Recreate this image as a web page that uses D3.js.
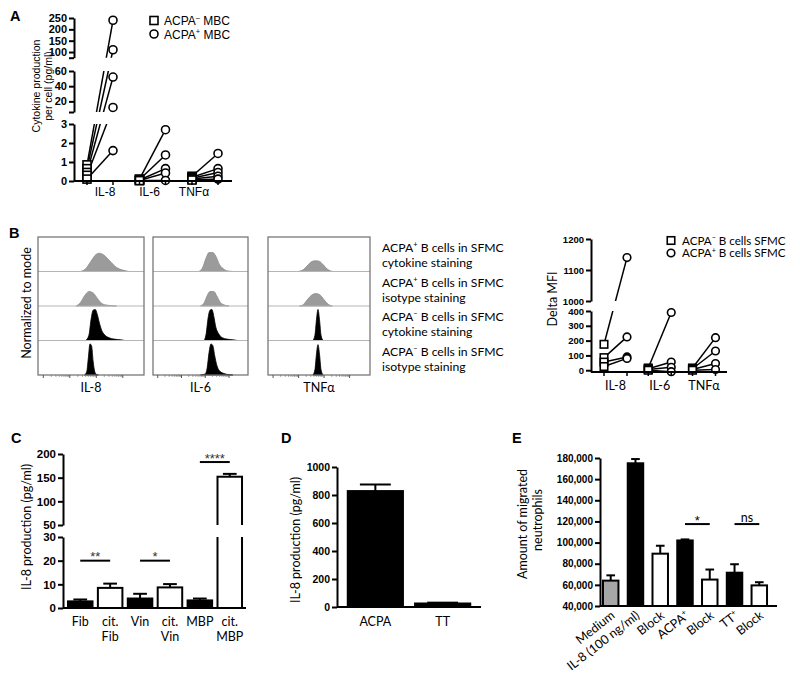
<!DOCTYPE html>
<html><head><meta charset="utf-8">
<script src="https://cdn.jsdelivr.net/npm/d3@7/dist/d3.min.js"></script>
<style>body{margin:0;background:#fff}svg{display:block}</style>
</head><body>
<script>
// ================= DATA =================
// Panel A: cytokine production per cell (pg/ml)
const aCats = ["IL-8", "IL-6", "TNFα"];
const aNeg = [[0.85, 0.65, 0.45, 0.3, 0.1], [0.1, 0.08, 0.05, 0.03, 0.02], [0.25, 0.2, 0.15, 0.1, 0.05]];
const aPos = [[240, 110, 52, 12, 1.6], [2.7, 1.37, 0.65, 0.42, 0.03], [1.45, 0.65, 0.45, 0.25, 0.1]];
const aSegDomains = [[0, 3], [6, 60], [75, 250]];
const aTicks = [[0, 1, 2, 3], [20, 40, 60], [100, 150, 200, 250]];
const aCaps = [[], [6], [75]];
const aLegend = ["ACPA^- MBC", "ACPA^+ MBC"];

// Panel B (left): flow histograms, [position 0-100 on log axis, height as fraction of row]
const bCats = ["IL-8", "IL-6", "TNFα"];
const bRowText = [["ACPA^+ B cells in SFMC", "cytokine staining"], ["ACPA^+ B cells in SFMC", "isotype staining"],
                  ["ACPA^- B cells in SFMC", "cytokine staining"], ["ACPA^- B cells in SFMC", "isotype staining"]];
const histIL8 = [
  [[40,0],[45,0.08],[50,0.3],[55,0.5],[58,0.53],[62,0.48],[68,0.3],[74,0.12],[80,0.04],[86,0]],
  [[36,0],[40,0.1],[44,0.3],[48,0.42],[52,0.38],[56,0.22],[60,0.08],[64,0.03],[70,0.01],[74,0]],
  [[45,0],[48,0.15],[50,0.6],[52,0.88],[54,0.9],[56,0.75],[58,0.5],[60,0.3],[63,0.16],[67,0.08],[72,0.04],[78,0.02],[82,0]],
  [[44,0],[46,0.1],[47.5,0.5],[49,0.9],[50.5,0.85],[52,0.4],[53.5,0.1],[55,0.02],[57,0]]
];
const histIL6 = [
  [[48,0],[52,0.1],[56,0.4],[59,0.55],[63,0.55],[66,0.45],[70,0.2],[75,0.06],[80,0.01],[84,0]],
  [[50,0],[54,0.1],[57,0.3],[60,0.42],[64,0.42],[67,0.3],[71,0.1],[75,0.03],[80,0]],
  [[54,0],[56,0.2],[58,0.65],[60,0.88],[62,0.9],[64,0.7],[66,0.4],[69,0.2],[73,0.08],[78,0.04],[84,0.02],[89,0]],
  [[50,0],[55,0.03],[57,0.2],[59,0.65],[61,0.9],[63,0.85],[65,0.55],[67,0.3],[70,0.12],[74,0.05],[80,0.01],[84,0]]
];
const histTNF = [
  [[29,0],[34,0.04],[38,0.15],[42,0.27],[46,0.31],[50,0.3],[54,0.2],[58,0.07],[62,0.01],[64,0]],
  [[31,0],[35,0.05],[39,0.2],[43,0.32],[47,0.36],[51,0.32],[55,0.18],[59,0.05],[63,0]],
  [[44,0],[46,0.15],[47.5,0.6],[49,0.9],[50.5,0.6],[52,0.15],[54,0]],
  [[44,0],[46,0.15],[47.5,0.6],[49,0.88],[50.5,0.6],[52,0.15],[54,0]]
];
const bHist = [histIL8, histIL6, histTNF];
const bLogTicks = [5, 30, 55, 80]; // decade positions on histogram axis (0-100)

// Panel B (right): Delta MFI
const mNeg = [[175, 85, 55, 25], [15, 10, 5, 0], [15, 10, 5, 0]];
const mPos = [[1140, 225, 90, 80], [390, 55, 20, -10], [220, 130, 45, 5]];
const mSegDomains = [[-12, 400], [1000, 1200]];
const mTicks = [[0, 100, 200, 300, 400], [1000, 1100, 1200]];
const mLegend = ["ACPA^- B cells SFMC", "ACPA^+ B cells SFMC"];

// Panel C: IL-8 production (pg/ml)
const cCats = ["Fib", "cit. Fib", "Vin", "cit. Vin", "MBP", "cit. MBP"];
const cVals = [2.8, 8.5, 4.0, 8.7, 3.2, 152];
const cErr = [0.8, 1.8, 2.0, 1.4, 0.8, 6];
const cCit = [false, true, false, true, false, true];
const cSegDomains = [[0, 30], [50, 200]];
const cTicks = [[0, 10, 20, 30], [50, 100, 150, 200]];
const cSig = [[0, 1, "**", 20], [2, 3, "*", 20], [4, 5, "****", 183]];

// Panel D: IL-8 production (pg/ml)
const dCats = ["ACPA", "TT"];
const dVals = [828, 25];
const dErr = [47, 6];
const dTicks = [0, 200, 400, 600, 800, 1000];

// Panel E: amount of migrated neutrophils
const eCats = ["Medium", "IL-8 (100 ng/ml)", "Block", "ACPA^+", "Block", "TT^+", "Block"];
const eVals = [64000, 175000, 89500, 102000, 65000, 71500, 59500];
const eErr = [5000, 4000, 7500, 1000, 9500, 8000, 3000];
const eKind = ["medium", "stim", "block", "stim", "block", "stim", "block"];
const eTicks = [40000, 60000, 80000, 100000, 120000, 140000, 160000, 180000];
const eSig = [[3, 4, "*", 117500], [5, 6, "ns", 117500]];

// ================= DRAWING =================
const W = 800, H = 674;
const svg = d3.select("body").append("svg").attr("width", W).attr("height", H);
svg.append("rect").attr("width", W).attr("height", H).attr("fill", "#fff");
const defs = svg.append("defs");
const ARIAL = "'Liberation Sans', Arial, Helvetica, sans-serif";
const CAL = "Lato, 'Open Sans', sans-serif";

function rich(sel, str, size) {
  const parts = str.split(/(\^[+\-])/);
  let shifted = false;
  parts.forEach(p => {
    if (!p) return;
    if (p[0] === '^') {
      sel.append("tspan").attr("dy", -size * 0.38).attr("font-size", size * 0.62).text(p[1] === '-' ? '\u2013' : '+');
      shifted = true;
    } else {
      const t = sel.append("tspan").text(p);
      if (shifted) { t.attr("dy", size * 0.38); shifted = false; }
    }
  });
  return sel;
}
function txt(x, y, s, size, fam, opts = {}) {
  const t = svg.append("text").attr("x", x).attr("y", y).attr("font-size", size).attr("font-family", fam)
    .attr("fill", "#000").attr("text-anchor", opts.anchor || "start").attr("font-weight", opts.weight || "normal");
  if (opts.transform) t.attr("transform", opts.transform);
  rich(t, s, size);
  return t;
}
function styleAxis(g, fs, weight) {
  g.attr("font-family", ARIAL).attr("font-size", fs).attr("font-weight", weight || "bold");
  g.select(".domain").attr("stroke", "#000").attr("stroke-width", 2);
  g.selectAll(".tick line").attr("stroke", "#000").attr("stroke-width", 2);
  g.selectAll(".tick text").attr("fill", "#000");
}
function yAxisSegs(x, scales, ticks, caps, fmt, fs) {
  scales.forEach((s, i) => {
    const vals = [...ticks[i], ...(caps ? caps[i] : [])];
    const g = svg.append("g").attr("transform", `translate(${x},0)`)
      .call(d3.axisLeft(s).tickValues(vals).tickSize(5).tickSizeOuter(0).tickPadding(2)
        .tickFormat(v => ticks[i].includes(v) ? fmt(v) : ""));
    styleAxis(g, fs);
  });
}
function piece(scales, v) {
  for (const s of scales) { const [a, b] = s.domain(); if (v >= Math.min(a, b) && v <= Math.max(a, b)) return s(v); }
  let best = scales[0], bd = Infinity;
  for (const s of scales) { const [a, b] = s.domain(); const d = Math.min(Math.abs(v - a), Math.abs(v - b)); if (d < bd) { bd = d; best = s; } }
  return best(v);
}
function segClip(id, x0, x1, scales) {
  const cp = defs.append("clipPath").attr("id", id);
  scales.forEach(s => { const r = s.range(); cp.append("rect").attr("x", x0).attr("width", x1 - x0)
    .attr("y", Math.min(r[0], r[1])).attr("height", Math.abs(r[1] - r[0])); });
}
function square(g, x, y, sz) {
  g.append("rect").attr("x", x - sz / 2).attr("y", y - sz / 2).attr("width", sz).attr("height", sz)
    .attr("fill", "#fff").attr("stroke", "#000").attr("stroke-width", 1.6);
}
function circle(g, x, y, r) {
  g.append("circle").attr("cx", x).attr("cy", y).attr("r", r).attr("fill", "#fff").attr("stroke", "#000").attr("stroke-width", 1.6);
}

// Panel letters
[["A", 10, 21], ["B", 9, 238], ["C", 11, 443], ["D", 281, 443], ["E", 512, 443]].forEach(d =>
  svg.append("text").attr("x", d[1]).attr("y", d[2]).text(d[0]).attr("font-family", ARIAL).attr("font-weight", "bold").attr("font-size", 14.5));

// ---------- Panel A ----------
{
  const ax0 = 74, ax1 = 232, ay0 = 181;
  const aRanges = [[181, 124], [112, 71], [57.7, 18]];
  const aY = aSegDomains.map((d, i) => d3.scaleLinear().domain(d).range(aRanges[i]));
  const aX = d3.scalePoint().domain(aCats).range([100, 205]);
  const aXlab = d3.scalePoint().domain(aCats).range([105, 194]);
  const off = 13;
  segClip("clipA", ax0, ax1, aY);
  const lines = svg.append("g").attr("clip-path", "url(#clipA)");
  const marks = svg.append("g");
  aCats.forEach((c, i) => {
    const xs = aX(c) - off, xc = aX(c) + off;
    aNeg[i].forEach((v, j) => {
      lines.append("line").attr("x1", xs).attr("y1", piece(aY, v)).attr("x2", xc).attr("y2", piece(aY, aPos[i][j]))
        .attr("stroke", "#000").attr("stroke-width", 1.5);
    });
  });
  aCats.forEach((c, i) => {
    const xs = aX(c) - off, xc = aX(c) + off;
    aNeg[i].forEach(v => square(marks, xs, piece(aY, v), 8));
    aPos[i].forEach(v => circle(marks, xc, piece(aY, v), 4));
  });
  yAxisSegs(ax0, aY, aTicks, aCaps, d3.format("d"), 11);
  svg.append("line").attr("x1", ax0).attr("x2", ax1).attr("y1", ay0).attr("y2", ay0).attr("stroke", "#000").attr("stroke-width", 2);
  aCats.forEach(c => {
    [aX(c) - off, aX(c) + off].forEach(x => svg.append("line").attr("x1", x).attr("x2", x).attr("y1", ay0).attr("y2", ay0 + 4).attr("stroke", "#000").attr("stroke-width", 1.5));
    txt(aXlab(c), 196, c, 12, ARIAL, { anchor: "middle" });
  });
  txt(0, 0, "Cytokine production", 10.5, ARIAL, { anchor: "middle", transform: "translate(39.5,86) rotate(-90)" });
  txt(0, 0, "per cell (pg/ml)", 10.5, ARIAL, { anchor: "middle", transform: "translate(52,86) rotate(-90)" });
  square(svg, 154, 20.5, 8); txt(164, 25, aLegend[0], 12, ARIAL);
  circle(svg, 154, 34, 4); txt(164, 38.5, aLegend[1], 12, ARIAL);
}

// ---------- Panel B left: histograms ----------
{
  const boxX = [[38, 144], [153, 248], [268, 370]];
  const top = 237, bot = 375, rh = (bot - top) / 4;
  bCats.forEach((c, i) => {
    const [x0, x1] = boxX[i];
    const hx = d3.scaleLinear().domain([0, 100]).range([x0, x1]);
    const g = svg.append("g");
    bHist[i].forEach((pts, r) => {
      const yb = top + (r + 1) * rh, yt = top + r * rh;
      const hy = d3.scaleLinear().domain([0, 1]).range([yb, yt]);
      const area = d3.area().x(d => hx(d[0])).y0(yb).y1(d => hy(d[1])).curve(d3.curveMonotoneX);
      g.append("path").datum(pts).attr("d", area).attr("fill", r < 2 ? "#9b9b9b" : "#000")
        .attr("stroke", r < 2 ? "#8c8c8c" : "#000").attr("stroke-width", 0.8);
      if (r < 3) g.append("line").attr("x1", x0).attr("x2", x1).attr("y1", yb).attr("y2", yb).attr("stroke", "#b5b5b5").attr("stroke-width", 1);
    });
    g.append("rect").attr("x", x0).attr("y", top).attr("width", x1 - x0).attr("height", bot - top)
      .attr("fill", "none").attr("stroke", "#6d6d6d").attr("stroke-width", 1.2);
    bLogTicks.forEach((t, k) => {
      g.append("line").attr("x1", hx(t)).attr("x2", hx(t)).attr("y1", bot).attr("y2", bot + 3).attr("stroke", "#555");
      if (k < bLogTicks.length - 1) {
        const step = bLogTicks[k + 1] - t;
        d3.range(2, 10).forEach(m => {
          const xm = hx(t + step * Math.log10(m));
          g.append("line").attr("x1", xm).attr("x2", xm).attr("y1", bot).attr("y2", bot + 1.8).attr("stroke", "#777").attr("stroke-width", 0.8);
        });
      }
    });
    txt((x0 + x1) / 2, 392, c, 12.5, CAL, { anchor: "middle" });
  });
  txt(0, 0, "Normalized to mode", 12.5, CAL, { anchor: "middle", transform: "translate(31,303) rotate(-90)" });
  bRowText.forEach((l, r) => {
    txt(382, top + r * rh + 15, l[0], 12.2, CAL);
    txt(382, top + r * rh + 30, l[1], 12.2, CAL);
  });
}

// ---------- Panel B right: Delta MFI ----------
{
  const ax0 = 591, ax1 = 727, ay0 = 372;
  const mRanges = [[372, 311], [301, 239]];
  const mY = mSegDomains.map((d, i) => d3.scaleLinear().domain(d).range(mRanges[i]));
  const mX = d3.scalePoint().domain(bCats).range([615.5, 704]);
  const off = 11.5;
  segClip("clipM", ax0, ax1, mY);
  const lines = svg.append("g").attr("clip-path", "url(#clipM)");
  bCats.forEach((c, i) => {
    mNeg[i].forEach((v, j) => lines.append("line").attr("x1", mX(c) - off).attr("y1", piece(mY, v))
      .attr("x2", mX(c) + off).attr("y2", piece(mY, mPos[i][j])).attr("stroke", "#000").attr("stroke-width", 1.5));
  });
  bCats.forEach((c, i) => {
    mNeg[i].forEach(v => square(svg, mX(c) - off, piece(mY, v), 7.5));
    mPos[i].forEach(v => circle(svg, mX(c) + off, piece(mY, v), 3.8));
  });
  yAxisSegs(ax0, mY, mTicks, null, d3.format("d"), 9.5);
  svg.append("line").attr("x1", ax0).attr("x2", ax1).attr("y1", ay0).attr("y2", ay0).attr("stroke", "#000").attr("stroke-width", 2);
  bCats.forEach(c => {
    [mX(c) - off, mX(c) + off].forEach(x => svg.append("line").attr("x1", x).attr("x2", x).attr("y1", ay0).attr("y2", ay0 + 4).attr("stroke", "#000").attr("stroke-width", 1.5));
    txt(mX(c), 390, c, 12.5, CAL, { anchor: "middle" });
  });
  txt(0, 0, "Delta MFI", 12.5, CAL, { anchor: "middle", transform: "translate(557,299) rotate(-90)" });
  square(svg, 671, 240.5, 7.5); txt(682, 244.5, mLegend[0], 11.6, CAL);
  circle(svg, 671, 253, 3.8); txt(682, 257, mLegend[1], 11.6, CAL);
}

// bar helper: bars start at the first segment's lower domain value; each axis segment clipped separately
function bars(g, xs, scales, vals, errs, fills, clipId, x0, x1) {
  const base = scales[0].domain()[0];
  scales.forEach((s, k) => {
    const id = clipId + "_" + k;
    segClip(id, x0 - 5, x1 + 5, [s]);
    const bg = g.append("g").attr("clip-path", `url(#${id})`);
    vals.forEach((v, i) => {
      const y0 = s(base), yv = s(v);
      bg.append("rect").attr("x", xs(i)).attr("width", xs.bandwidth()).attr("y", Math.min(y0, yv)).attr("height", Math.abs(y0 - yv))
        .attr("fill", fills[i]).attr("stroke", "#000").attr("stroke-width", 2);
    });
  });
  vals.forEach((v, i) => {
    const cx = xs(i) + xs.bandwidth() / 2, yt = piece(scales, v), ye = piece(scales, v + errs[i]);
    const cw = xs.bandwidth() * 0.28;
    g.append("line").attr("x1", cx).attr("x2", cx).attr("y1", yt).attr("y2", ye).attr("stroke", "#000").attr("stroke-width", 2);
    g.append("line").attr("x1", cx - cw).attr("x2", cx + cw).attr("y1", ye).attr("y2", ye).attr("stroke", "#000").attr("stroke-width", 2);
  });
}

// ---------- Panel C ----------
{
  const ax0 = 63, ax1 = 246, ay0 = 608;
  const cRanges = [[608, 537], [525, 454]];
  const cY = cSegDomains.map((d, i) => d3.scaleLinear().domain(d).range(cRanges[i]));
  const cX = d3.scaleBand().domain(d3.range(cCats.length)).range([62, 248]).paddingInner(0.18).paddingOuter(0.2);
  const g = svg.append("g");
  bars(g, cX, cY, cVals, cErr, cCit.map(c => c ? "#fff" : "#000"), "clipC", ax0, ax1);
  yAxisSegs(ax0, cY, cTicks, null, d3.format("d"), 11.5);
  svg.append("line").attr("x1", ax0).attr("x2", ax1).attr("y1", ay0).attr("y2", ay0).attr("stroke", "#000").attr("stroke-width", 2);
  cCats.forEach((c, i) => {
    const cx = cX(i) + cX.bandwidth() / 2;
    c.split(" ").forEach((w, k) => txt(cx, 626 + k * 15, w, 12.5, CAL, { anchor: "middle" }));
  });
  cSig.forEach(([a, b, lab, v]) => {
    const y = piece(cY, v), xa = cX(a) + cX.bandwidth() / 2, xb = cX(b) + cX.bandwidth() / 2;
    svg.append("line").attr("x1", xa).attr("x2", xb).attr("y1", y).attr("y2", y).attr("stroke", "#000").attr("stroke-width", 2);
    txt((xa + xb) / 2, y + 0.5, lab, 13, ARIAL, { anchor: "middle" }).attr("fill", "#333");
  });
  txt(0, 0, "IL-8 production (pg/ml)", 12.5, CAL, { anchor: "middle", transform: "translate(31,527) rotate(-90)" });
}

// ---------- Panel D ----------
{
  const ax0 = 337, ax1 = 481, ay0 = 607;
  const dY = d3.scaleLinear().domain([0, 1000]).range([607, 467]);
  const dX = d3.scaleBand().domain(d3.range(dCats.length)).range([ax0, ax1]).paddingInner(0.18).paddingOuter(0.16);
  const g = svg.append("g");
  bars(g, dX, [dY], dVals, dErr, ["#000", "#000"], "clipD", ax0, ax1);
  const ga = svg.append("g").attr("transform", `translate(${ax0},0)`).call(d3.axisLeft(dY).tickValues(dTicks).tickSize(5).tickSizeOuter(0).tickPadding(2).tickFormat(d3.format("d")));
  styleAxis(ga, 10.5);
  svg.append("line").attr("x1", ax0).attr("x2", ax1).attr("y1", ay0).attr("y2", ay0).attr("stroke", "#000").attr("stroke-width", 2);
  dCats.forEach((c, i) => txt(dX(i) + dX.bandwidth() / 2, 626, c, 12.5, CAL, { anchor: "middle" }));
  txt(0, 0, "IL-8 production (pg/ml)", 12.5, CAL, { anchor: "middle", transform: "translate(300,540) rotate(-90)" });
}

// ---------- Panel E ----------
{
  const ax0 = 600, ax1 = 777, ay0 = 606;
  const eY = d3.scaleLinear().domain([40000, 180000]).range([606, 458]);
  const eX = d3.scaleBand().domain(d3.range(eCats.length)).range([600, 770]).paddingInner(0.375).paddingOuter(0.12);
  const fillOf = { medium: "#a6a6a6", stim: "#000", block: "#fff" };
  const g = svg.append("g");
  bars(g, eX, [eY], eVals, eErr, eKind.map(k => fillOf[k]), "clipE", ax0, ax1);
  const ga = svg.append("g").attr("transform", `translate(${ax0},0)`).call(d3.axisLeft(eY).tickValues(eTicks).tickSize(5).tickSizeOuter(0).tickPadding(2).tickFormat(d3.format(",")));
  styleAxis(ga, 10);
  svg.append("line").attr("x1", ax0).attr("x2", ax1).attr("y1", ay0).attr("y2", ay0).attr("stroke", "#000").attr("stroke-width", 2);
  eCats.forEach((c, i) => {
    const cx = eX(i) + eX.bandwidth() / 2;
    txt(0, 0, c, 12.5, CAL, { anchor: "end", transform: `translate(${cx + 5},${617}) rotate(-38)` });
  });
  eSig.forEach(([a, b, lab, v]) => {
    const y = eY(v), xa = eX(a) + eX.bandwidth() / 2, xb = eX(b) + eX.bandwidth() / 2;
    svg.append("line").attr("x1", xa).attr("x2", xb).attr("y1", y).attr("y2", y).attr("stroke", "#000").attr("stroke-width", 2);
    if (lab === "ns") txt((xa + xb) / 2, y - 2.5, lab, 12.5, CAL, { anchor: "middle" });
    else txt((xa + xb) / 2, y + 0.5, lab, 13, ARIAL, { anchor: "middle" });
  });
  txt(0, 0, "Amount of migrated", 12.5, CAL, { anchor: "middle", transform: "translate(527,524) rotate(-90)" });
  txt(0, 0, "neutrophils", 12.5, CAL, { anchor: "middle", transform: "translate(542,520) rotate(-90)" });
}
</script>
</body></html>
